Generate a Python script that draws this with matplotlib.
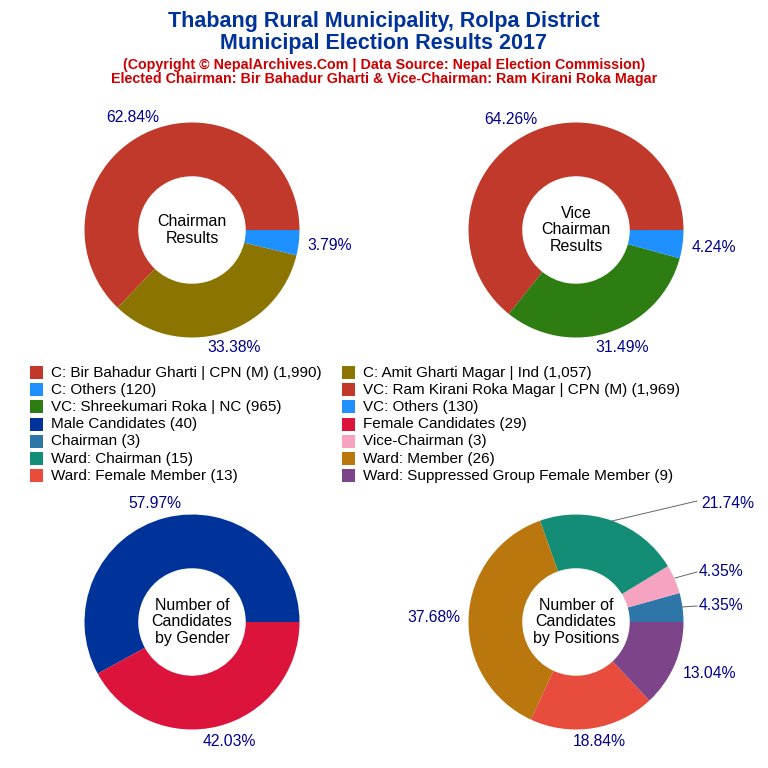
import matplotlib
matplotlib.use("Agg")
import matplotlib.pyplot as plt

plt.rcParams['font.family'] = ['Liberation Sans', 'DejaVu Sans']

chair_values = [1990, 1057, 120]
chair_colors = ["#C0392B", "#8B7500", "#1E90FF"]
vice_values = [1969, 965, 130]
vice_colors = ["#C0392B", "#2E7D12", "#1E90FF"]
gender_values = [40, 29]
gender_colors = ["#003399", "#DC143C"]
pos_values = [3, 3, 15, 26, 13, 9]
pos_colors = ["#2E75A8", "#F5A3C0", "#138D75", "#B9770E", "#E74C3C", "#7D4489"]
pct_chair = ["62.84%", "33.38%", "3.79%"]
pct_vice = ["64.26%", "31.49%", "4.24%"]
pct_gender = ["57.97%", "42.03%"]
pct_pos = ["4.35%", "4.35%", "21.74%", "37.68%", "18.84%", "13.04%"]
legend_left = ["C: Bir Bahadur Gharti | CPN (M) (1,990)", "C: Others (120)", "VC: Shreekumari Roka | NC (965)", "Male Candidates (40)", "Chairman (3)", "Ward: Chairman (15)", "Ward: Female Member (13)"]
legend_left_c = ["#C0392B", "#1E90FF", "#2E7D12", "#003399", "#2E75A8", "#138D75", "#E74C3C"]
legend_right = ["C: Amit Gharti Magar | Ind (1,057)", "VC: Ram Kirani Roka Magar | CPN (M) (1,969)", "VC: Others (130)", "Female Candidates (29)", "Vice-Chairman (3)", "Ward: Member (26)", "Ward: Suppressed Group Female Member (9)"]
legend_right_c = ["#8B7500", "#C0392B", "#1E90FF", "#DC143C", "#F5A3C0", "#B9770E", "#7D4489"]

W = 768.0
fig = plt.figure(figsize=(7.68, 7.68), dpi=100, facecolor="white")

def donut(cx, cy, values, colors, pcts, centre, label_pos, lines=()):
    r = 107.5
    ax = fig.add_axes([(cx - r) / W, 1 - (cy + r) / W, 2 * r / W, 2 * r / W])
    ax.pie(values, colors=colors, startangle=0, counterclock=True, radius=1,
           wedgeprops=dict(width=0.5, linewidth=0))
    ax.set_xlim(-1, 1); ax.set_ylim(-1, 1)
    ax.axis("off")
    ax.text(0, 0, centre, ha="center", va="center", fontsize=11.5, linespacing=1.12, color="black")
    for t, (x, y) in zip(pcts, label_pos):
        fig.text(x / W, 1 - y / W, t, ha="center", va="center", fontsize=11.3, color="#00008B")
    for l in lines:
        fig.add_artist(plt.Line2D([l[0] / W, l[2] / W], [1 - l[1] / W, 1 - l[3] / W], color="#666666", lw=0.7))

donut(192, 230, chair_values, chair_colors, pct_chair, "Chairman\nResults",
      [(133, 117), (234, 348), (330, 245)])
donut(576, 230, vice_values, vice_colors, pct_vice, "Vice\nChairman\nResults",
      [(511, 119), (622, 347), (714, 247)])
donut(192, 622, gender_values, gender_colors, pct_gender, "Number of\nCandidates\nby Gender",
      [(155, 503), (229, 741)])
donut(576, 622, pos_values, pos_colors, pct_pos, "Number of\nCandidates\nby Positions",
      [(721, 606), (721, 572), (728, 503), (434, 617), (599, 742), (709, 673)],
      [(612, 521, 697, 501), (675, 578, 697, 572), (682, 607, 697, 606)])

fig.text(0.5, 1 - 22 / W, "Thabang Rural Municipality, Rolpa District", ha="center", va="center", fontsize=15.5, fontweight="bold", color="#003399")
fig.text(0.5, 1 - 43 / W, "Municipal Election Results 2017", ha="center", va="center", fontsize=15.5, fontweight="bold", color="#003399")
fig.text(0.5, 1 - 65 / W, "(Copyright © NepalArchives.Com | Data Source: Nepal Election Commission)", ha="center", va="center", fontsize=10.3, fontweight="bold", color="#CC0000")
fig.text(0.5, 1 - 79 / W, "Elected Chairman: Bir Bahadur Gharti & Vice-Chairman: Ram Kirani Roka Magar", ha="center", va="center", fontsize=10.3, fontweight="bold", color="#CC0000")

for labels, colors, x in ((legend_left, legend_left_c, 30), (legend_right, legend_right_c, 342)):
    for i, (t, c) in enumerate(zip(labels, colors)):
        y = 372.5 + i * 17.2
        fig.patches.append(plt.Rectangle((x / W, 1 - (y + 6.5) / W), 13 / W, 13 / W, transform=fig.transFigure, color=c, lw=0))
        fig.text((x + 21) / W, 1 - y / W, t, ha="left", va="center", fontsize=11, color="black")

fig.savefig("out.png", dpi=100)
